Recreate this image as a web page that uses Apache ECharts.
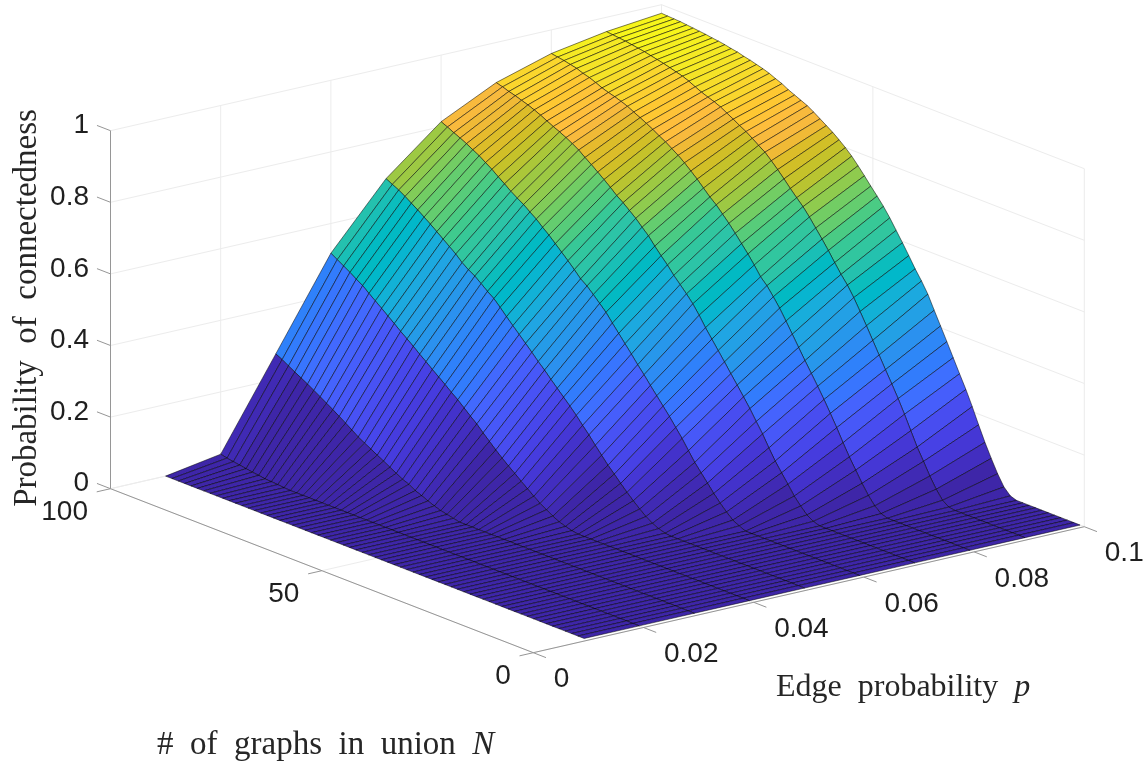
<!DOCTYPE html>
<html>
<head>
<meta charset="utf-8">
<style>html,body{margin:0;padding:0;background:#fff}#c{width:1148px;height:763px}</style>
<script src="https://cdn.jsdelivr.net/npm/echarts@6/dist/echarts.min.js"></script>
</head>
<body>
<div id="c"></div>
<script>
// ---- data ----
var pValues = [0.01,0.02,0.03,0.04,0.05,0.06,0.07,0.08,0.09,0.1];
var nValues = [1,2.5,4,5.5,7,8.5,10,11.5,13,14.5,16,17.5,19,20.5,22,23.5,25,26.5,28,29.5,31,32.5,34,35.5,37,38.5,40,41.5,43,44.5,46,47.5,49,50.5,52,53.5,55,56.5,58,59.5,61,62.5,64,65.5,67,68.5,70,71.5,73,74.5,76,77.5,79,80.5,82,83.5,85,86.5,88,89.5,91,92.5,94,95.5,97,98.5,100];

var zP01 = [0,0,0,0,0,0,0,0,0,0,0,0,0,0,0,0,0,0,0,0,0,0,0,0,0,0,0,0,0,0,0,0,0,0,0,0,0,0,0,0,0,0,0,0,0,0,0,0,0,0,0,0,0,0,0,0,0,0,0,0,0,0,0,0,0,0,0];
var zP02 = [0,0,0,0,0,0,0,0,0,0,0,0,0,0,0,0,0,0,0,0,0,0,0,0,0,0,0,0,0,0,0,0,0,0,0,0,0,0,0,0,0,0,0,0,0,0,0,0,0,0,0,0,0,0,0,0,.001,.003,.004,.005,.008,.01,.013,.016,.019,.022,.026];
var zP03 = [0,0,0,0,0,0,0,0,0,0,0,0,0,0,0,0,0,0,0,0,0,0,0,0,0,0,0,0,0,0,0,0,0,0,0,0,0,0,.004,.008,.012,.018,.025,.033,.04,.051,.058,.068,.078,.088,.098,.108,.118,.128,.141,.153,.165,.177,.188,.199,.21,.221,.231,.241,.251,.262,.271];
var zP04 = [0,0,0,0,0,0,0,0,0,0,0,0,0,0,0,0,0,0,0,0,0,0,0,0,0,0,0,0,.003,.008,.014,.023,.034,.045,.058,.072,.086,.101,.115,.13,.146,.163,.18,.198,.213,.229,.245,.259,.274,.288,.302,.317,.331,.346,.36,.374,.389,.403,.418,.432,.446,.461,.472,.484,.495,.506,.517];
var zP05 = [0,0,0,0,0,0,0,0,0,0,0,0,0,0,0,0,0,0,0,0,0,0,.002,.008,.016,.028,.042,.058,.075,.093,.112,.13,.151,.172,.194,.214,.235,.254,.272,.29,.308,.327,.344,.363,.381,.399,.417,.435,.454,.472,.485,.50,.514,.525,.538,.555,.569,.583,.597,.611,.624,.637,.649,.661,.672,.681,.69];
var zP06 = [0,0,0,0,0,0,0,0,0,0,0,0,0,0,0,0,0,0,0,.008,.017,.033,.051,.071,.093,.115,.137,.163,.19,.214,.238,.26,.282,.304,.327,.348,.371,.393,.415,.437,.46,.478,.496,.513,.526,.545,.563,.58,.597,.614,.629,.645,.658,.672,.683,.695,.709,.722,.736,.748,.76,.77,.78,.789,.797,.806,.814];
var zP07 = [0,0,0,0,0,0,0,0,0,0,0,0,0,0,0,0,.006,.017,.035,.056,.082,.107,.133,.163,.195,.223,.252,.278,.304,.329,.355,.38,.405,.43,.458,.483,.504,.523,.542,.564,.583,.603,.625,.642,.66,.675,.69,.703,.719,.734,.748,.762,.775,.789,.80,.81,.819,.827,.836,.845,.853,.86,.866,.872,.877,.883,.888];
var zP08 = [0,0,0,0,0,0,0,0,0,0,0,0,0,0,.006,.021,.043,.07,.10,.13,.163,.198,.231,.263,.293,.322,.351,.381,.411,.441,.47,.495,.519,.537,.563,.587,.609,.631,.652,.671,.69,.705,.723,.741,.757,.773,.787,.799,.811,.821,.832,.842,.851,.86,.869,.876,.882,.887,.893,.901,.908,.913,.92,.924,.928,.931,.934];
var zP09 = [0,0,0,0,0,0,0,0,0,0,0,0,.003,.015,.039,.069,.103,.136,.175,.214,.251,.285,.318,.352,.386,.42,.453,.485,.513,.536,.562,.589,.614,.638,.662,.684,.702,.721,.741,.76,.778,.795,.807,.82,.832,.842,.853,.863,.873,.881,.887,.894,.902,.911,.918,.923,.928,.933,.937,.941,.945,.948,.951,.954,.956,.958,.96];
var zP10 = [0,0,0,0,0,0,0,0,0,0,0,.006,.024,.054,.09,.128,.17,.214,.255,.292,.33,.368,.405,.442,.48,.51,.537,.567,.596,.624,.652,.677,.699,.72,.742,.763,.783,.80,.815,.829,.841,.853,.865,.876,.884,.892,.90,.91,.917,.925,.931,.936,.941,.945,.95,.953,.957,.96,.962,.965,.967,.969,.971,.973,.974,.975,.976];
var zColumns = [zP01,zP02,zP03,zP04,zP05,zP06,zP07,zP08,zP09,zP10];

var pTicks = [0,0.02,0.04,0.06,0.08,0.1];
var pTickLabels = ['0','0.02','0.04','0.06','0.08','0.1'];
var nTicks = [0,50,100];
var nTickLabels = ['0','50','100'];
var zTicks = [0,0.2,0.4,0.6,0.8,1];
var zTickLabels = ['0','0.2','0.4','0.6','0.8','1'];

var parula = [[.2422,.1504,.6603],[.2504,.1650,.7076],[.2578,.1818,.7511],[.2647,.1978,.7952],[.2706,.2147,.8364],[.2751,.2342,.8710],[.2783,.2559,.8991],[.2803,.2782,.9221],[.2813,.3006,.9414],[.2810,.3228,.9579],[.2795,.3447,.9717],[.2760,.3667,.9829],[.2699,.3892,.9906],[.2602,.4123,.9952],[.2440,.4358,.9988],[.2206,.4603,.9973],[.1963,.4847,.9892],[.1834,.5074,.9798],[.1786,.5289,.9682],[.1764,.5499,.9520],[.1687,.5703,.9359],[.1540,.5902,.9218],[.1460,.6091,.9079],[.1380,.6276,.8973],[.1248,.6459,.8883],[.1113,.6635,.8763],[.0952,.6798,.8598],[.0689,.6948,.8394],[.0297,.7082,.8163],[.0036,.7203,.7917],[.0067,.7312,.7660],[.0433,.7411,.7394],[.0964,.7500,.7120],[.1408,.7584,.6842],[.1717,.7670,.6554],[.1938,.7758,.6251],[.2161,.7843,.5923],[.2470,.7918,.5567],[.2906,.7973,.5188],[.3406,.8008,.4789],[.3909,.8029,.4354],[.4456,.8024,.3909],[.5044,.7993,.3480],[.5616,.7942,.3045],[.6174,.7876,.2612],[.6720,.7793,.2227],[.7242,.7698,.1910],[.7738,.7598,.1646],[.8203,.7498,.1535],[.8634,.7406,.1596],[.9035,.7330,.1774],[.9393,.7285,.2100],[.9728,.7309,.2394],[.9956,.7433,.2371],[.9970,.7659,.2199],[.9952,.7861,.1967],[.9892,.8135,.1885],[.9786,.8386,.1766],[.9676,.8639,.1643],[.9610,.8890,.1537],[.9597,.9135,.1423],[.9628,.9373,.1265],[.9691,.9606,.1064],[.9769,.9839,.0805]];

// ---- orthographic view of the 3D box (MATLAB style) ----
var view = {ox:533.3, oy:652.7, px:5510, py:-1260, nx:-4.228, ny:-1.64, zy:-358};
function project(p, n, z){
  return [view.ox + view.px*p + view.nx*n, view.oy + view.py*p + view.ny*n + view.zy*z];
}
var P_MAX = 0.1, N_MAX = 100, Z_MAX = 1;
var zTop = 0.976;
function colorOf(z){
  var i = Math.min(63, Math.floor(z/zTop*64));
  var c = parula[i];
  return 'rgb('+Math.round(c[0]*255)+','+Math.round(c[1]*255)+','+Math.round(c[2]*255)+')';
}

// Surface facets, painted back to front
var facets = [];
for (var j = nValues.length-2; j >= 0; j--) {
  for (var k = pValues.length-2; k >= 0; k--) {
    facets.push([pValues[k], pValues[k+1], nValues[j], nValues[j+1],
      zColumns[k][j], zColumns[k+1][j], zColumns[k+1][j+1], zColumns[k][j+1]]);
  }
}

// Wall and floor grid lines
var gridSegs = [];
pTicks.forEach(function(p){
  gridSegs.push([p,N_MAX,0,p,N_MAX,Z_MAX]);
  gridSegs.push([p,0,0,p,N_MAX,0]);
});
nTicks.forEach(function(n){
  gridSegs.push([P_MAX,n,0,P_MAX,n,Z_MAX]);
  gridSegs.push([0,n,0,P_MAX,n,0]);
});
zTicks.forEach(function(z){
  gridSegs.push([0,N_MAX,z,P_MAX,N_MAX,z]);
  gridSegs.push([P_MAX,0,z,P_MAX,N_MAX,z]);
});

// Axis rulers and tick marks
var axisSegs = [[0,N_MAX,0,0,N_MAX,Z_MAX],[0,0,0,0,N_MAX,0],[0,0,0,P_MAX,0,0]];
pTicks.forEach(function(p){ axisSegs.push([p,0,0,p,-3,0]); });
nTicks.forEach(function(n){ axisSegs.push([0,n,0,-0.0025,n,0]); });
zTicks.forEach(function(z){ axisSegs.push([0,N_MAX,z,0,N_MAX+3.2,z]); });

// Tick labels: anchor on the ruler + side
var labelItems = [];
pTicks.forEach(function(p,i){ labelItems.push([p,0,0,0,pTickLabels[i]]); });
nTicks.forEach(function(n,i){ labelItems.push([0,n,0,1,nTickLabels[i]]); });
zTicks.forEach(function(z,i){ labelItems.push([0,N_MAX,z,2,zTickLabels[i]]); });
var labelOffset = [[20.5,27,'left'],[-22.5,24,'right'],[-21.5,-5,'right']];

function segRenderer(color, width){
  return function(params, api){
    var a = project(api.value(0),api.value(1),api.value(2));
    var b = project(api.value(3),api.value(4),api.value(5));
    var s = api.coord(a), e = api.coord(b);
    return {type:'line', shape:{x1:s[0],y1:s[1],x2:e[0],y2:e[1]},
      style:{stroke:color,lineWidth:width,fill:null}, silent:true};
  };
}

var SANS = '28px "Liberation Sans", Arimo, Helvetica, sans-serif';
var SERIF = '"Liberation Serif", "Times New Roman", serif';

var chart = echarts.init(document.getElementById('c'), null, {renderer:'canvas'});
chart.setOption({
  animation:false,
  backgroundColor:'#ffffff',
  tooltip:{show:false},
  grid:{left:0,right:0,top:0,bottom:0,containLabel:false},
  xAxis:{type:'value',min:0,max:1148,show:false},
  yAxis:{type:'value',min:0,max:763,inverse:true,show:false},
  series:[
    {type:'custom',coordinateSystem:'cartesian2d',silent:true,z:1,data:gridSegs,
     encode:{x:0,y:1},renderItem:segRenderer('#ececec',1)},
    {type:'custom',coordinateSystem:'cartesian2d',silent:true,z:2,data:axisSegs,
     encode:{x:0,y:1},renderItem:segRenderer('#969696',1)},
    {type:'custom',coordinateSystem:'cartesian2d',silent:true,z:3,data:facets,progressive:0,
     encode:{x:0,y:2},
     renderItem:function(params,api){
       var p0=api.value(0),p1=api.value(1),n0=api.value(2),n1=api.value(3);
       var z00=api.value(4),z10=api.value(5),z11=api.value(6),z01=api.value(7);
       var pts=[api.coord(project(p0,n0,z00)),api.coord(project(p1,n0,z10)),
                api.coord(project(p1,n1,z11)),api.coord(project(p0,n1,z01))];
       return {type:'polygon',shape:{points:pts},silent:true,
         style:{fill:colorOf(z00),stroke:'rgba(0,0,0,0.72)',lineWidth:0.7,lineJoin:'round'}};
     }},
    {type:'custom',coordinateSystem:'cartesian2d',silent:true,z:4,
     data:labelItems.map(function(d){return [d[0],d[1],d[2],d[3]];}),
     encode:{x:0,y:1},
     renderItem:function(params,api){
       var item=labelItems[params.dataIndex];
       var o=labelOffset[item[3]];
       var c=api.coord(project(item[0],item[1],item[2]));
       return {type:'text',silent:true,
         style:{text:item[4],x:c[0]+o[0],y:c[1]+o[1],align:o[2],verticalAlign:'middle',
                fill:'#1f1f1f',font:SANS}};
     }}
  ],
  graphic:[
    {type:'text',silent:true,z:10,x:27,y:308,rotation:Math.PI/2,
     style:{text:'Probability  of  connectedness',align:'center',verticalAlign:'middle',
            fill:'#262626',font:'33px '+SERIF}},
    {type:'text',silent:true,z:10,x:776,y:688,
     style:{text:'{a|Edge  probability  }{b|p}',align:'left',verticalAlign:'middle',fill:'#262626',
            rich:{a:{font:'32px '+SERIF,fill:'#262626'},b:{font:'italic 32px '+SERIF,fill:'#262626'}}}},
    {type:'text',silent:true,z:10,x:157,y:745,
     style:{text:'{a|#  of  graphs  in  union  }{b|N}',align:'left',verticalAlign:'middle',fill:'#262626',
            rich:{a:{font:'33px '+SERIF,fill:'#262626'},b:{font:'italic 33px '+SERIF,fill:'#262626'}}}}
  ]
});
</script>
</body>
</html>
